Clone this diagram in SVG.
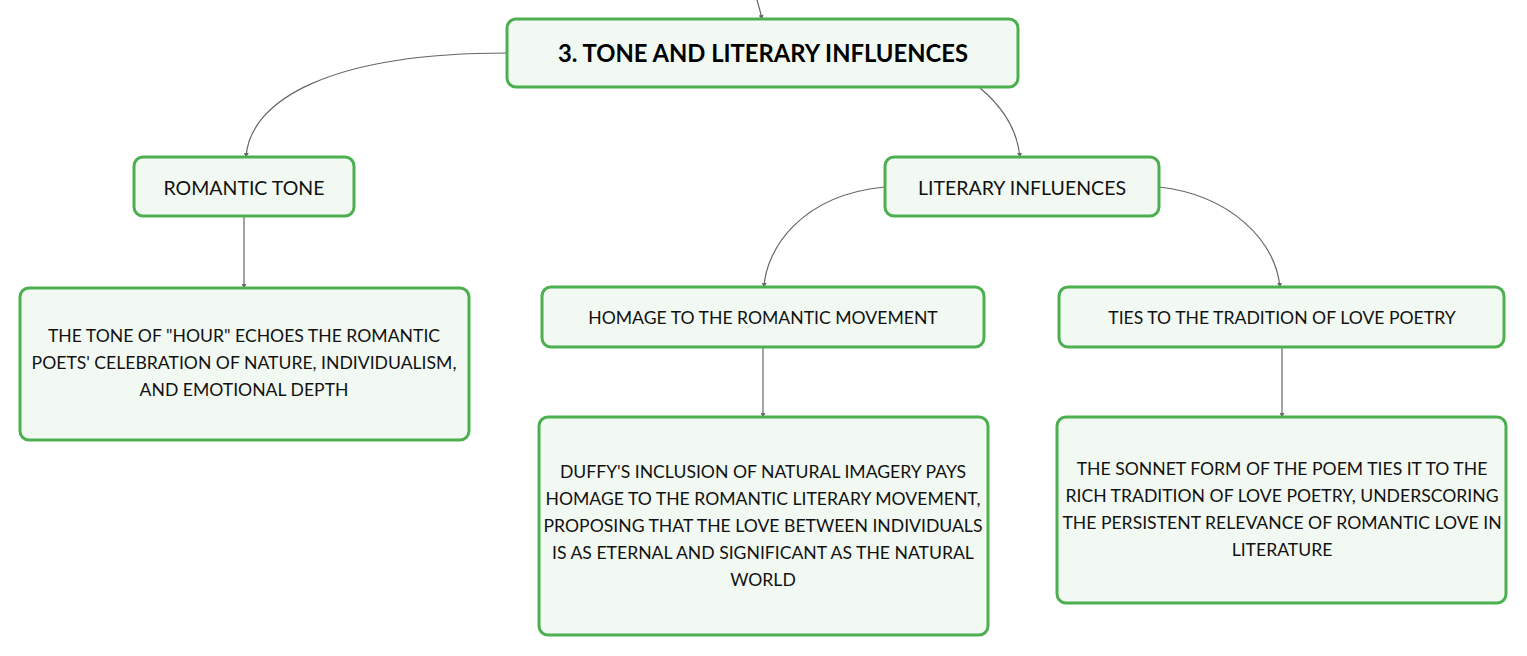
<svg xmlns="http://www.w3.org/2000/svg" width="1527" height="656" viewBox="0 0 1527 656">
<defs>
<style>
.box{fill:#f2f9f2;stroke:#4caf50;stroke-width:3}
.t{font-family:Lato,"Noto Sans",sans-serif;font-size:17.6px;fill:#111;text-anchor:middle;dominant-baseline:central}
.m{font-size:19.5px}
.h{font-family:Lato,"Noto Sans",sans-serif;font-size:23.8px;font-weight:bold;fill:#000;text-anchor:middle;dominant-baseline:central}
.c{fill:none;stroke:#666;stroke-width:1.2;marker-end:url(#a)}
</style>
<marker id="a" viewBox="0 0 6 6" refX="5" refY="3" markerWidth="5" markerHeight="5" orient="auto" markerUnits="userSpaceOnUse">
<path d="M0,0 L6,3 L0,6 z" fill="#666"/>
</marker>
</defs>
<rect width="1527" height="656" fill="#fff"/>
<g id="connectors">
<path class="c" d="M757,0 Q760,10 762,19"/>
<path class="c" d="M507,53 C330,53 250,100 246,157"/>
<path class="c" d="M980,88 Q1016,118 1020,157"/>
<path class="c" d="M885,187 C800,195 766,250 764,287"/>
<path class="c" d="M1159,187 C1230,195 1275,240 1280,287"/>
<path class="c" d="M244,217 L244,288"/>
<path class="c" d="M763,348 L763,417"/>
<path class="c" d="M1282,348 L1282,417"/>
</g>
<g id="root">
<rect class="box" x="507" y="19" width="511" height="68" rx="9"/>
<text class="h" x="763" y="53">3. TONE AND LITERARY INFLUENCES</text>
</g>
<g id="romantic-tone">
<rect class="box" x="134" y="157" width="220" height="59" rx="9"/>
<text class="t m" x="244" y="187">ROMANTIC TONE</text>
</g>
<g id="literary-influences">
<rect class="box" x="885" y="157" width="274" height="59" rx="9"/>
<text class="t m" x="1022" y="187">LITERARY INFLUENCES</text>
</g>
<g id="romantic-detail">
<rect class="box" x="20" y="288" width="449" height="152" rx="9"/>
<text class="t" x="244" y="335">THE TONE OF "HOUR" ECHOES THE ROMANTIC</text>
<text class="t" x="244" y="362">POETS' CELEBRATION OF NATURE, INDIVIDUALISM,</text>
<text class="t" x="244" y="389">AND EMOTIONAL DEPTH</text>
</g>
<g id="homage">
<rect class="box" x="542" y="287" width="442" height="60" rx="9"/>
<text class="t" x="763" y="317">HOMAGE TO THE ROMANTIC MOVEMENT</text>
</g>
<g id="ties">
<rect class="box" x="1059" y="287" width="445" height="60" rx="9"/>
<text class="t" x="1282" y="317">TIES TO THE TRADITION OF LOVE POETRY</text>
</g>
<g id="homage-detail">
<rect class="box" x="539" y="417" width="449" height="218" rx="9"/>
<text class="t" x="763" y="471">DUFFY'S INCLUSION OF NATURAL IMAGERY PAYS</text>
<text class="t" x="763" y="498">HOMAGE TO THE ROMANTIC LITERARY MOVEMENT,</text>
<text class="t" x="763" y="525">PROPOSING THAT THE LOVE BETWEEN INDIVIDUALS</text>
<text class="t" x="763" y="552">IS AS ETERNAL AND SIGNIFICANT AS THE NATURAL</text>
<text class="t" x="763" y="579">WORLD</text>
</g>
<g id="ties-detail">
<rect class="box" x="1057" y="417" width="449" height="186" rx="9"/>
<text class="t" x="1282" y="468">THE SONNET FORM OF THE POEM TIES IT TO THE</text>
<text class="t" x="1282" y="495">RICH TRADITION OF LOVE POETRY, UNDERSCORING</text>
<text class="t" x="1282" y="522">THE PERSISTENT RELEVANCE OF ROMANTIC LOVE IN</text>
<text class="t" x="1282" y="549">LITERATURE</text>
</g>
</svg>
